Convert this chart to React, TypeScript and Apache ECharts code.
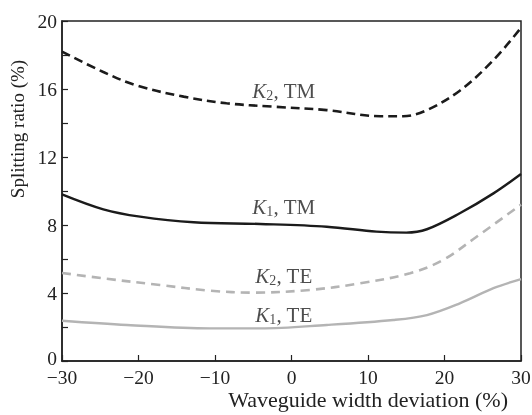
import React, { useEffect, useRef } from "react";
import * as echarts from "echarts";

const xK2TM = [-30, -24.6, -20.2, -14.1, -8.5, -2.4, 4.6, 11.6, 14.6, 17.7, 22.0, 26.4, 30];
const yK2TM = [18.2, 17.0, 16.2, 15.55, 15.16, 14.96, 14.76, 14.4, 14.4, 14.76, 15.9, 17.7, 19.6];

const xK1TM = [-30, -24.6, -19.8, -12.8, -4.1, 4.6, 11.1, 15.0, 17.7, 22.0, 26.4, 30];
const yK1TM = [9.8, 8.92, 8.49, 8.16, 8.06, 7.9, 7.61, 7.55, 7.75, 8.69, 9.86, 11.0];

const xK2TE = [-30, -24.6, -17.2, -10.7, -5.0, 2.4, 9.0, 15.5, 19.8, 24.2, 30];
const yK2TE = [5.18, 4.86, 4.47, 4.14, 4.02, 4.18, 4.57, 5.16, 5.94, 7.31, 9.2];

const xK1TE = [-30, -21.5, -10.7, -4.1, 4.6, 13.3, 17.7, 22.0, 26.4, 30];
const yK1TE = [2.37, 2.12, 1.92, 1.92, 2.12, 2.41, 2.7, 3.39, 4.28, 4.82];

const labelNames = ["K2, TM", "K1, TM", "K2, TE", "K1, TE"];
const labelX = [-1, -1, -1, -1];
const labelY = [15.9, 9.05, 5.0, 2.7];

const xTicks = [-30, -20, -10, 0, 10, 20, 30];
const yTicks = [0, 4, 8, 12, 16, 20];

const zip = (xs: number[], ys: number[]) => xs.map((x, i) => [x, ys[i]]);

const FONT = "Liberation Serif";

export default function App() {
  const ref = useRef<HTMLDivElement>(null);
  useEffect(() => {
    if (!ref.current) return;
    const chart = echarts.init(ref.current, null, { renderer: "svg" });
    const black = "#1b1b1b";
    const gray = "#b4b4b4";
    chart.setOption({
      animation: false,
      grid: {
        left: 62,
        right: 11,
        top: 21,
        bottom: 54,
        outerBoundsMode: "none",
        containLabel: false,
        show: true,
        borderColor: "#222",
        borderWidth: 1.5,
        backgroundColor: "transparent",
      },
      xAxis: {
        type: "value",
        min: -30,
        max: 30,
        interval: 10,
        axisLine: { show: true, onZero: false, lineStyle: { color: "#222", width: 1.5 } },
        axisTick: { show: true, inside: true, length: 6, lineStyle: { color: "#222", width: 1.2 } },
        splitLine: { show: false },
        axisLabel: {
          margin: 8,
          color: "#222",
          fontFamily: FONT,
          fontSize: 19.5,
          lineHeight: 16,
          formatter: (v: number) => (xTicks.includes(v) ? String(v).replace("-", "\u2212") : ""),
        },
      },
      yAxis: {
        type: "value",
        min: 0,
        max: 20,
        interval: 2,
        name: "Splitting ratio (%)",
        nameLocation: "middle",
        nameGap: 32,
        nameTextStyle: {
          fontFamily: FONT,
          fontSize: 19,
          color: "#222",
          padding: [0, 0, 0, 124],
        },
        axisLine: { show: true, onZero: false, lineStyle: { color: "#222", width: 1.5 } },
        axisTick: { show: true, inside: true, length: 6, lineStyle: { color: "#222", width: 1.2 } },
        splitLine: { show: false },
        axisLabel: {
          margin: 5,
          color: "#222",
          fontFamily: FONT,
          fontSize: 19.5,
          lineHeight: 14,
          formatter: (v: number) =>
            v === 0 ? "{z|0}" : yTicks.includes(v) ? String(v) : "",
          rich: {
            z: {
              fontFamily: FONT,
              fontSize: 19.5,
              lineHeight: 14,
              color: "#222",
              padding: [0, 0, 5, 0],
            },
          },
        },
      },
      graphic: [
        {
          type: "text",
          x: 508,
          y: 399,
          style: {
            text: "Waveguide width deviation (%)",
            fontFamily: FONT,
            fontSize: 22,
            lineHeight: 18,
            fill: "#222",
            textAlign: "right",
            textVerticalAlign: "middle",
          },
        },
      ],
      series: [
        {
          type: "line",
          data: zip(xK2TM, yK2TM),
          smooth: 0.35,
          symbol: "none",
          lineStyle: { color: black, width: 2.6, type: [9, 5] },
        },
        {
          type: "line",
          data: zip(xK1TM, yK1TM),
          smooth: 0.35,
          symbol: "none",
          lineStyle: { color: black, width: 2.4 },
        },
        {
          type: "line",
          data: zip(xK2TE, yK2TE),
          smooth: 0.35,
          symbol: "none",
          lineStyle: { color: gray, width: 2.6, type: [9, 6] },
        },
        {
          type: "line",
          data: zip(xK1TE, yK1TE),
          smooth: 0.35,
          symbol: "none",
          lineStyle: { color: gray, width: 2.4 },
        },
        {
          type: "scatter",
          symbolSize: 0,
          silent: true,
          data: labelNames.map((n, i) => ({ value: [labelX[i], labelY[i]], name: n })),
          label: {
            show: true,
            position: "inside",
            formatter: (p: any) => {
              const n: string = p.name;
              return `{k|K}{s|${n[1]}}{t|${n.slice(2)}}`;
            },
            rich: {
              k: { fontFamily: FONT, fontStyle: "italic", fontSize: 21, color: "#222" },
              s: { fontFamily: FONT, fontSize: 14, color: "#222", padding: [9, 0, 0, 0] },
              t: { fontFamily: FONT, fontSize: 21, color: "#222" },
            },
          },
        },
      ],
    });
    return () => chart.dispose();
  }, []);
  return (
    <div
      ref={ref}
      style={{ position: "fixed", left: 0, top: 0, width: 532, height: 415 }}
    />
  );
}
